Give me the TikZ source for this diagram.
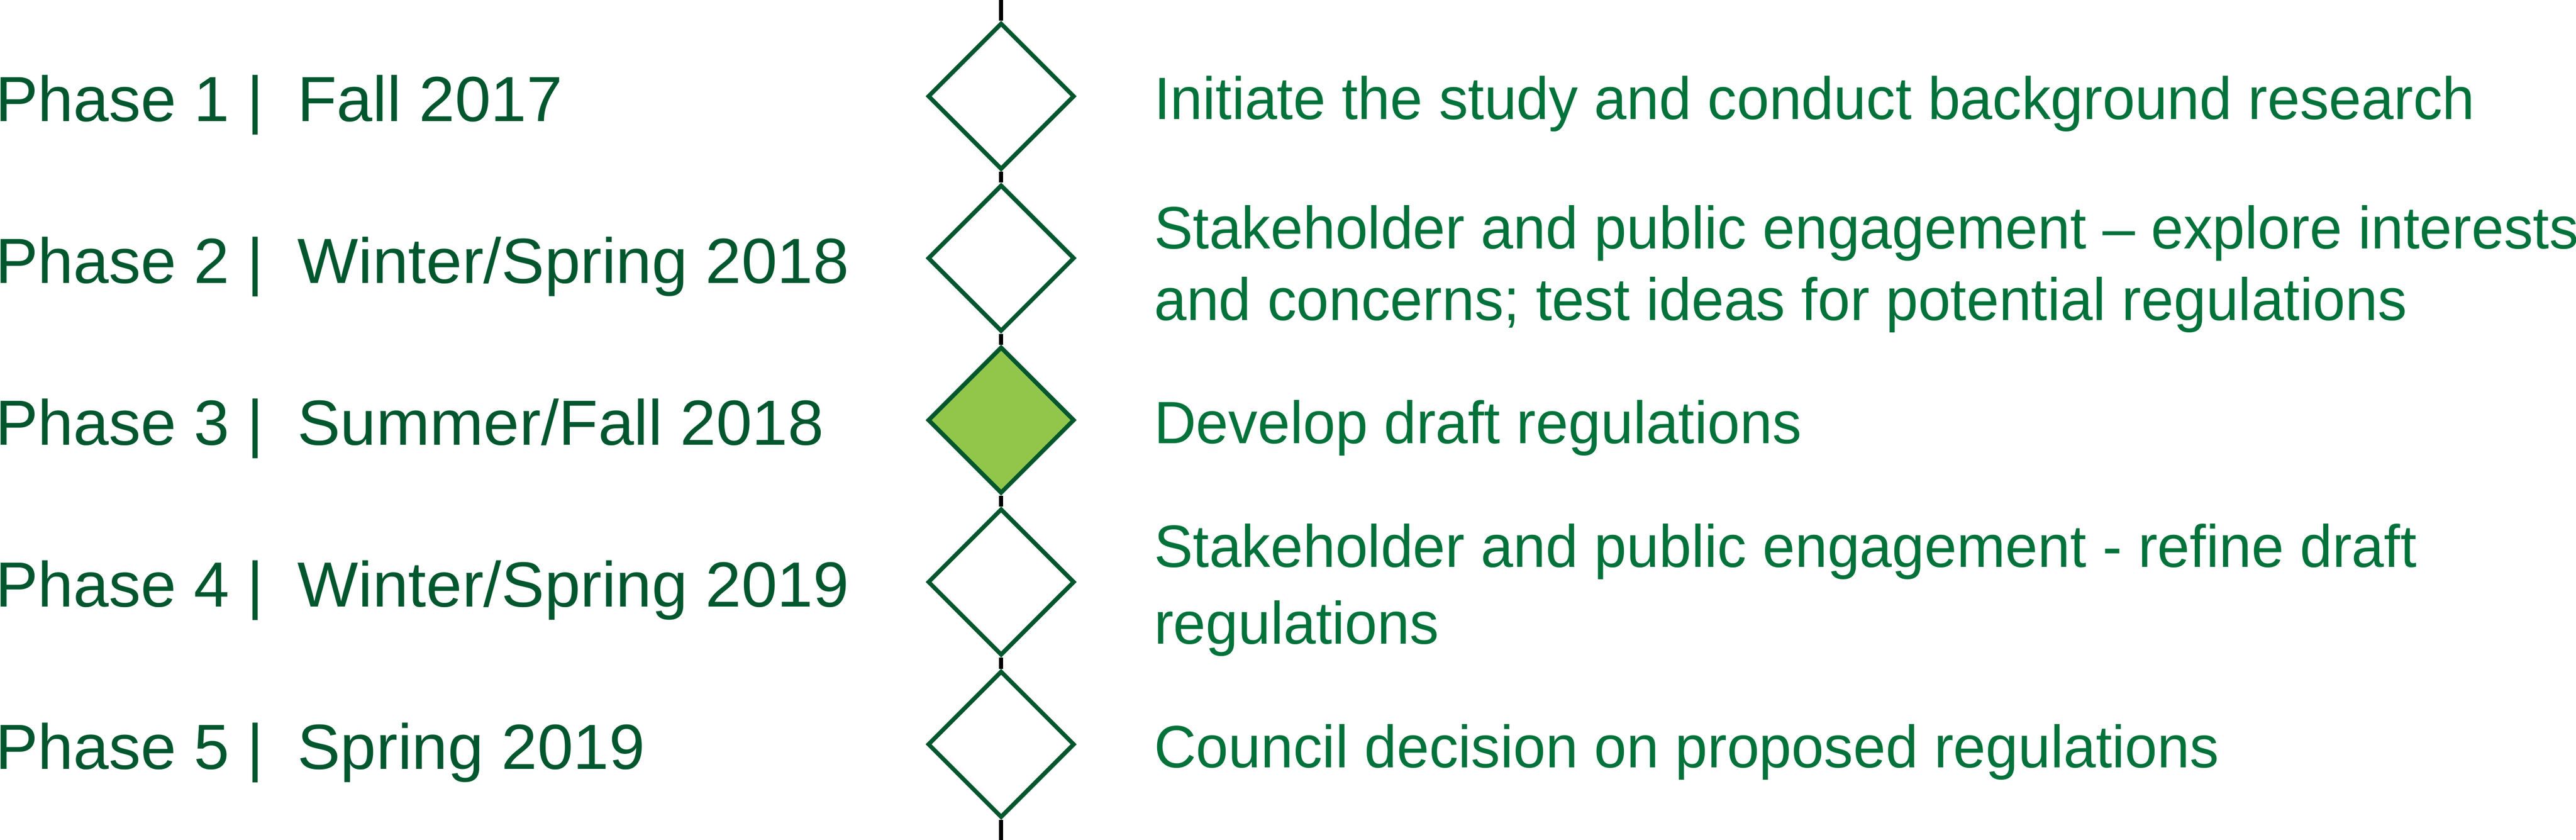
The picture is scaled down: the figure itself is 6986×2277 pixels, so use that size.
\documentclass[tikz,border=0pt]{standalone}
\usepackage{fontspec}
\setmainfont{Liberation Sans}
\newfontfamily\taskfont[FakeStretch=0.975]{Liberation Sans}
\newfontfamily\phasefont[FakeStretch=1.01]{Liberation Sans}
\usetikzlibrary{shapes.geometric}
\definecolor{txtdark}{RGB}{0,87,46}
\definecolor{txtgreen}{RGB}{0,114,58}
\definecolor{edgegreen}{RGB}{0,87,46}
\definecolor{fillgreen}{RGB}{146,198,75}
\begin{document}
\begin{tikzpicture}[x=0.1pt,y=0.1pt,
  stage/.style={diamond, aspect=1, draw=edgegreen, line width=1.15pt, fill=white,
    minimum width=39.8pt, minimum height=39.8pt, inner sep=0pt},
  current/.style={stage, fill=fillgreen},
  spine/.style={draw=black, line width=1.15pt},
  phase/.style={anchor=base west, inner sep=0pt, text=txtdark,
    font=\fontsize{17.3}{20}\selectfont},
  period/.style={phase, font=\phasefont\fontsize{17.3}{20}\selectfont},
  task/.style={anchor=base west, inner sep=0pt, text=txtgreen, align=left,
    font=\taskfont\fontsize{16.2}{19.4}\selectfont},
]
\useasboundingbox (0,0) rectangle (6986,-2277);

\coordinate (top) at (2715,0);
\coordinate (bot) at (2715,-2277);

\node[stage]   (s1) at (2715,-261)  {};
\node[stage]   (s2) at (2715,-700)  {};
\node[current] (s3) at (2715,-1139) {};
\node[stage]   (s4) at (2715,-1578) {};
\node[stage]   (s5) at (2715,-2018) {};

\draw[spine] (top) -- (s1.north);
\draw[spine] (s1.south) -- (s2.north);
\draw[spine] (s2.south) -- (s3.north);
\draw[spine] (s3.south) -- (s4.north);
\draw[spine] (s4.south) -- (s5.north);
\draw[spine] (s5.south) -- (bot);

\node[phase]  (p1) at (-14,-328.5)  {Phase 1 |};
\node[period] (d1) at (805,-328.5)  {Fall 2017};
\node[phase]  (p2) at (-14,-767.5)  {Phase 2 |};
\node[period] (d2) at (805,-767.5)  {Winter/Spring 2018};
\node[phase]  (p3) at (-14,-1206.5) {Phase 3 |};
\node[period] (d3) at (805,-1206.5) {Summer/Fall 2018};
\node[phase]  (p4) at (-14,-1645.5) {Phase 4 |};
\node[period] (d4) at (805,-1645.5) {Winter/Spring 2019};
\node[phase]  (p5) at (-14,-2085.5) {Phase 5 |};
\node[period] (d5) at (805,-2085.5) {Spring 2019};

\node[task] (t1) at (3128,-323.5) {Initiate the study and conduct background research};
\node[task] (t2) at (3128,-868) {Stakeholder and public engagement – explore interests\\and concerns; test ideas for potential regulations};
\node[task] (t3) at (3128,-1202) {Develop draft regulations};
\node[task, font=\taskfont\fontsize{16.2}{20.8}\selectfont] (t4) at (3128,-1746) {Stakeholder and public engagement - refine draft\\regulations};
\node[task] (t5) at (3128,-2081.5) {Council decision on proposed regulations};
\end{tikzpicture}
\end{document}
